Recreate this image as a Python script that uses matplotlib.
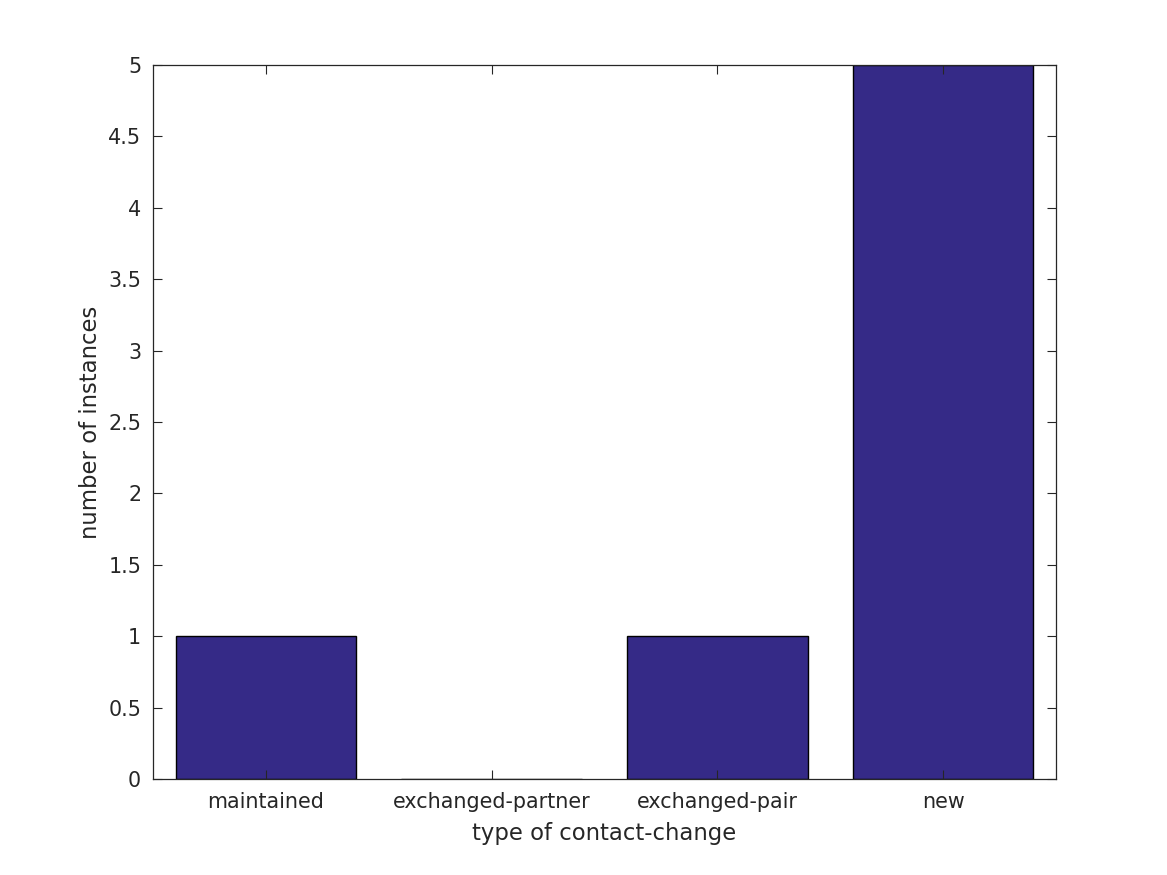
import matplotlib
matplotlib.use('Agg')
import matplotlib.pyplot as plt

# dados
categorias = ['maintained', 'exchanged-partner', 'exchanged-pair', 'new']
contagens = [1, 0, 1, 5]
yticks = [0, 0.5, 1, 1.5, 2, 2.5, 3, 3.5, 4, 4.5, 5]
ytick_labels = ['0', '0.5', '1', '1.5', '2', '2.5', '3', '3.5', '4', '4.5', '5']

cor_texto = '#262626'
plt.rcParams['font.family'] = 'DejaVu Sans'

fig = plt.figure(figsize=(11.67, 8.75), dpi=100)
ax = fig.add_axes([153/1167, 1 - 779/875, (1056 - 153)/1167, (779 - 65)/875])

x = list(range(1, len(categorias) + 1))
ax.bar(x, contagens, width=0.8, color='#352A87', edgecolor='black', linewidth=1, zorder=1)

ax.set_xlim(0.5, 4.5)
ax.set_ylim(0, 5)
ax.set_xticks(x)
ax.set_xticklabels(categorias)
ax.set_yticks(yticks)
ax.set_yticklabels(ytick_labels)

ax.tick_params(direction='in', length=6.7, width=0.8, top=True, right=True,
               labelsize=14.9, colors=cor_texto, labelcolor=cor_texto)
ax.tick_params(axis='x', pad=9.5)
ax.tick_params(axis='y', pad=8.5)
for s in ax.spines.values():
    s.set_color(cor_texto)
    s.set_linewidth(0.9)
    s.set_zorder(3)

ax.set_xlabel('type of contact-change', fontsize=16.4, color=cor_texto, labelpad=7)
ax.set_ylabel('number of instances', fontsize=16.4, color=cor_texto, labelpad=4.5)

fig.savefig('out.png', dpi=100)
